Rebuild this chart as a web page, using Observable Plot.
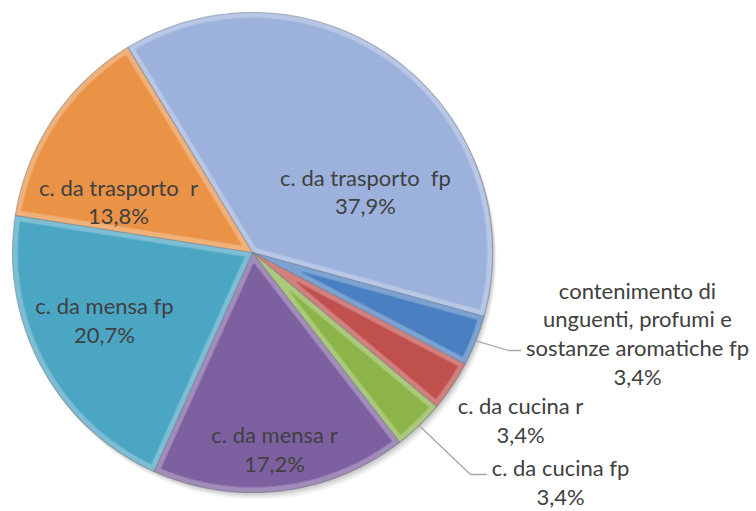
<!DOCTYPE html>
<html><head><meta charset="utf-8">
<script src="https://cdn.jsdelivr.net/npm/d3@7"></script>
<script src="https://cdn.jsdelivr.net/npm/@observablehq/plot@0.6"></script>
<style>body{margin:0;background:#fff}</style>
</head><body><div id="chart"></div>
<script>
// ---- data ----
const categories = [
  "c. da trasporto  fp",
  "contenimento di\nunguenti, profumi e\nsostanze aromatiche fp",
  "c. da cucina r",
  "c. da cucina fp",
  "c. da mensa r",
  "c. da mensa fp",
  "c. da trasporto  r"
];
const values = [37.9, 3.4, 3.4, 3.4, 17.2, 20.7, 13.8];
const colors = ["#9cb2dc", "#4a7fc1", "#c0504d", "#8cb449", "#7d60a0", "#4ba6c4", "#ea9246"];

// ---- layout (pixels, converted to unit coords) ----
const CX = 252, CY = 252, R = 240;
const ux = px => (px - CX) / R, uy = py => (CY - py) / R;
const startDeg = -31.3;
const labelPx = [[365, 190.5], [637, 332], [520, 419], [560, 481], [274, 448], [104, 319], [118, 200.5]];
const leaderPx = {1: [[508, 350], [520, 350]], 3: [[470, 474], [486, 474]]};

const pie = d3.pie().sort(null)
  .startAngle(startDeg * Math.PI / 180)
  .endAngle((startDeg + 360) * Math.PI / 180);
const arcs = pie(values);
const P = (r, a) => ({x: r * Math.sin(a), y: r * Math.cos(a)});

const slices = [], insets = [];
arcs.forEach((s, i) => {
  const cat = categories[i];
  const a0 = s.startAngle, a1 = s.endAngle;
  const n = Math.max(8, Math.ceil((a1 - a0) * 180 / Math.PI));
  slices.push({...P(0, 0), cat});
  for (let k = 0; k <= n; k++) slices.push({...P(1, a0 + (a1 - a0) * k / n), cat});
  slices.push({...P(0, 0), cat});
  const d = 0.024, Ri = 1 - d;
  const half = (a1 - a0) / 2, mid = (a0 + a1) / 2;
  const apex = P(d / Math.sin(half), mid);
  const b0 = a0 + Math.asin(d / Ri), b1 = a1 - Math.asin(d / Ri);
  insets.push({...apex, cat});
  for (let k = 0; k <= n; k++) insets.push({...P(Ri, b0 + (b1 - b0) * k / n), cat});
  insets.push({...apex, cat});
});

const fmt = v => v.toFixed(1).replace(".", ",") + "%";
const labelData = arcs.map((s, i) => ({
  x: ux(labelPx[i][0]), y: uy(labelPx[i][1]),
  text: categories[i] + "\n" + fmt(values[i])
}));

const leaders = [];
Object.keys(leaderPx).forEach(k => {
  const s = arcs[+k];
  const mid = (s.startAngle + s.endAngle) / 2;
  leaders.push({...P(1.005, mid), k});
  leaderPx[k].forEach(([px, py]) => leaders.push({x: ux(px), y: uy(py), k}));
});

const shadow = [[1, 1, 0.08], [2, 3, 0.08], [3, 5, 0.06], [4, 7, 0.04]].map(([dx, dy, o]) =>
  Plot.line(slices, {x: "x", y: "y", z: "cat", fill: "#000000", fillOpacity: o, stroke: "none", dx, dy}));

const chart = Plot.plot({
  width: 756, height: 511, margin: 0,
  x: {domain: [-1, 1], range: [CX - R, CX + R], axis: null},
  y: {domain: [-1, 1], range: [CY + R, CY - R], axis: null},
  color: {domain: categories, range: colors},
  marks: [
    ...shadow,
    Plot.line(slices, {x: "x", y: "y", z: "cat", fill: "cat", stroke: "#33404f", strokeOpacity: 0.35, strokeWidth: 1.2}),
    Plot.line(slices, {x: "x", y: "y", z: "cat", fill: "#ffffff", fillOpacity: 0.28, stroke: "none"}),
    Plot.line(insets, {x: "x", y: "y", z: "cat", fill: "cat", stroke: "cat", strokeOpacity: 0.5, strokeWidth: 2}),
    Plot.line(leaders, {x: "x", y: "y", z: "k", stroke: "#a6a6a6", strokeWidth: 1.3}),
    Plot.text(labelData, {x: "x", y: "y", text: "text", fontSize: 22, lineHeight: 1.3, fill: "#404040",
      textAnchor: "middle", fontFamily: "Lato, 'Open Sans', sans-serif"})
  ]
});
document.getElementById("chart").appendChild(chart);
</script>
</body></html>
